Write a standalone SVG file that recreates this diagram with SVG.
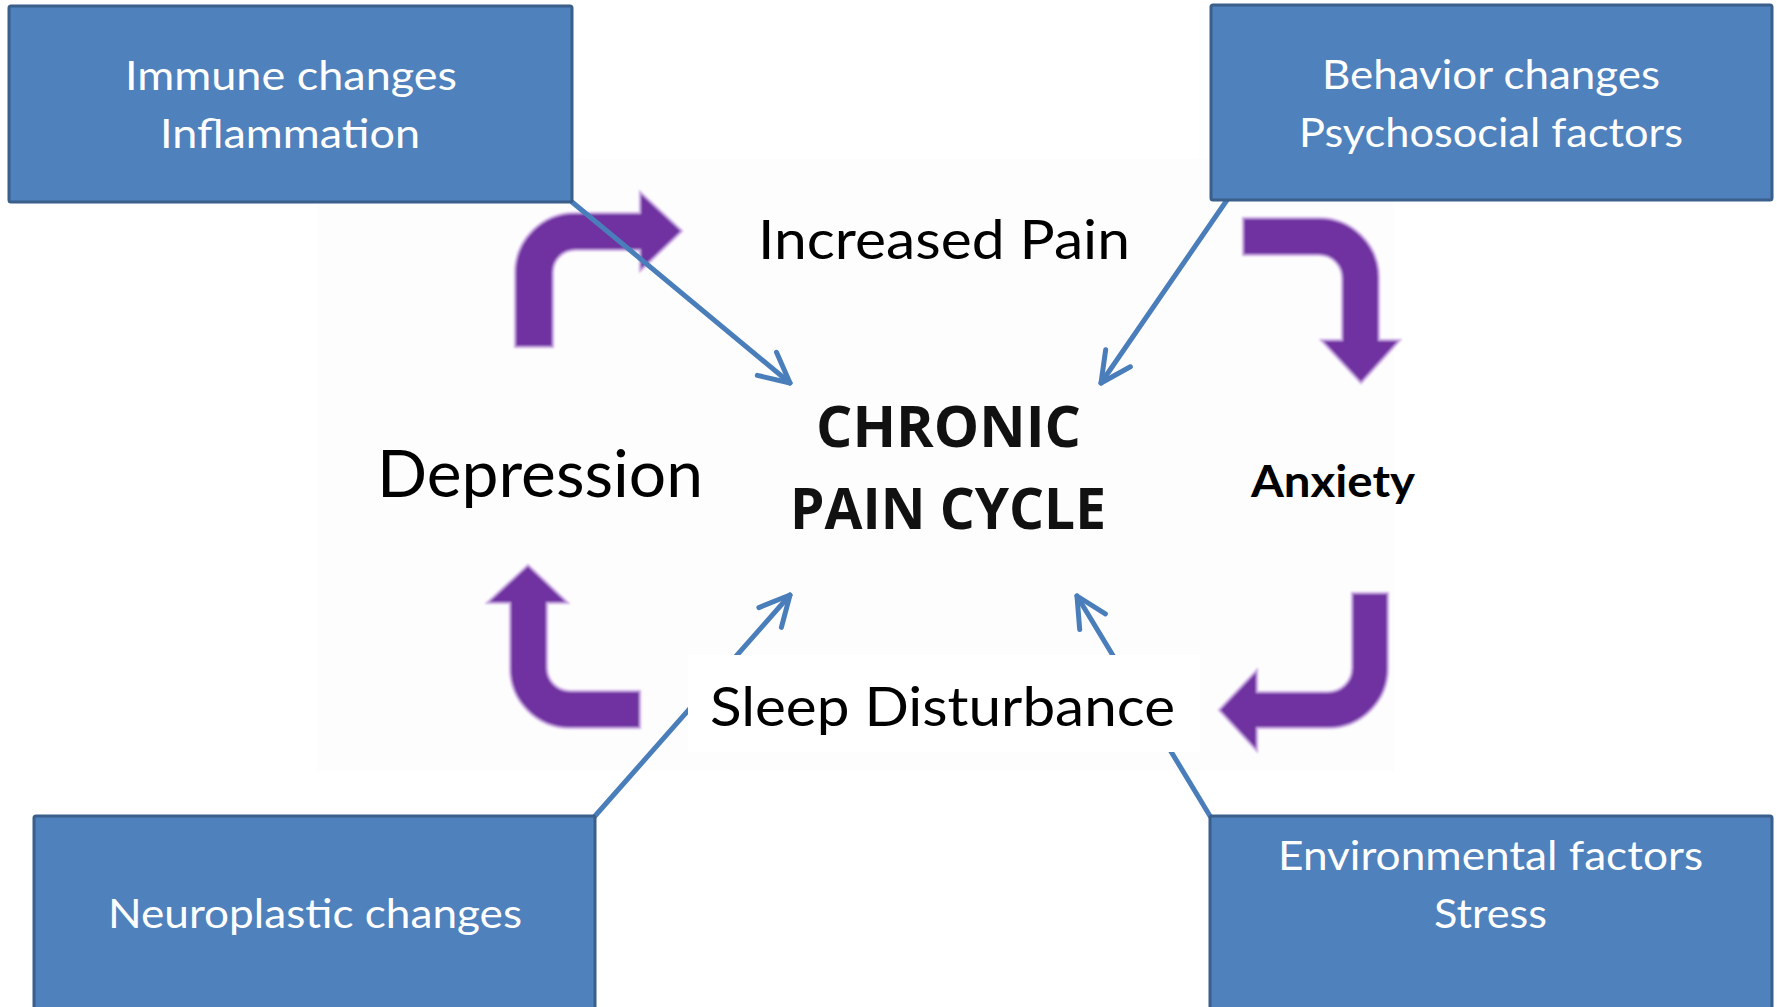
<svg xmlns="http://www.w3.org/2000/svg" width="1777" height="1007" viewBox="0 0 1777 1007">
  <style>
    .box { fill: #4F81BD; stroke: #3A5F8B; stroke-width: 3; }
    .boxtext { font-family: Lato, "Open Sans", sans-serif; font-size: 41px; fill: #FFFFFF; }
    .label { font-family: Lato, "Open Sans", sans-serif; fill: #000000; }
    .conn { stroke: #4A7EBB; stroke-width: 5; fill: none; stroke-linecap: round; marker-end: url(#openArrow); }
    .cycle { fill: #7030A0; stroke: #C9A6E3; stroke-width: 2; }
  </style>
  <defs>
    <marker id="openArrow" markerUnits="userSpaceOnUse" markerWidth="50" markerHeight="50" refX="35" refY="25" orient="auto" overflow="visible">
      <path d="M 5 10 L 35 25 L 5 40" fill="none" stroke="#4A7EBB" stroke-width="5" stroke-linecap="round" stroke-linejoin="round"/>
    </marker>
    <filter id="soft" x="-10%" y="-10%" width="120%" height="120%">
      <feGaussianBlur stdDeviation="1.2"/>
    </filter>
  </defs>

  <rect x="0" y="0" width="1777" height="1007" fill="#FFFFFF"/>
  <rect x="317" y="159" width="1077" height="612" fill="#FDFDFD"/>

  <!-- purple cycle arrows -->
  <g id="cycle-arrows" filter="url(#soft)">
    <path class="cycle" d="M 515 347 L 515 273 A 60 60 0 0 1 575 213 L 640 213 L 640 192 L 682 231 L 640 271 L 640 250 L 575 250 A 22 22 0 0 0 553 272 L 553 347 Z"/>
    <path class="cycle" d="M 1243 218 L 1319 218 A 60 60 0 0 1 1379 278 L 1379 340 L 1400 340 L 1361 383 L 1321 340 L 1342 340 L 1342 278 A 23 23 0 0 0 1319 255 L 1243 255 Z"/>
    <path class="cycle" d="M 1352 593 L 1388 593 L 1388 668 A 60 60 0 0 1 1328 728 L 1257 728 L 1257 751 L 1219 710 L 1257 670 L 1257 692 L 1328 692 A 24 24 0 0 0 1352 668 Z"/>
    <path class="cycle" d="M 640 728 L 570 728 A 60 60 0 0 1 510 668 L 510 603 L 487 603 L 528 565 L 568 603 L 547 603 L 547 668 A 23 23 0 0 0 570 691 L 640 691 Z"/>
  </g>

  <!-- connectors -->
  <g id="connectors">
    <line class="conn" x1="572" y1="202" x2="790" y2="383"/>
    <line class="conn" x1="1227" y1="200" x2="1101" y2="383"/>
    <line class="conn" x1="595" y1="816" x2="790" y2="595"/>
    <line class="conn" x1="1210" y1="816" x2="1077" y2="596"/>
  </g>

  <!-- factor boxes -->
  <g id="immune">
    <rect class="box" x="9" y="6" width="563" height="196" rx="2"/>
    <text class="boxtext" x="125" y="90" textLength="332" lengthAdjust="spacingAndGlyphs">Immune changes</text>
    <text class="boxtext" x="160" y="148" textLength="260" lengthAdjust="spacingAndGlyphs">Inflammation</text>
  </g>
  <g id="behavior">
    <rect class="box" x="1211" y="5" width="561" height="195" rx="2"/>
    <text class="boxtext" x="1322" y="89" textLength="338" lengthAdjust="spacingAndGlyphs">Behavior changes</text>
    <text class="boxtext" x="1299" y="147" textLength="384" lengthAdjust="spacingAndGlyphs">Psychosocial factors</text>
  </g>
  <g id="neuroplastic">
    <rect class="box" x="34" y="816" width="561" height="200" rx="2"/>
    <text class="boxtext" x="108" y="928" textLength="414" lengthAdjust="spacingAndGlyphs">Neuroplastic changes</text>
  </g>
  <g id="environmental">
    <rect class="box" x="1210" y="816" width="562" height="200" rx="2"/>
    <text class="boxtext" x="1278" y="870" textLength="425" lengthAdjust="spacingAndGlyphs">Environmental factors</text>
    <text class="boxtext" x="1434" y="928" textLength="113" lengthAdjust="spacingAndGlyphs">Stress</text>
  </g>

  <!-- cycle labels -->
  <g id="increased-pain">
    <text class="label" x="758" y="259" font-size="55" textLength="372" lengthAdjust="spacingAndGlyphs">Increased Pain</text>
  </g>
  <g id="depression">
    <text class="label" x="377" y="497" font-size="65" textLength="326" lengthAdjust="spacingAndGlyphs">Depression</text>
  </g>
  <g id="anxiety">
    <text class="label" x="1251" y="497" font-size="43" font-weight="bold" textLength="164" lengthAdjust="spacingAndGlyphs">Anxiety</text>
  </g>
  <g id="sleep">
    <rect x="688" y="655" width="512" height="97" fill="#FFFFFF"/>
    <text class="label" x="710" y="726" font-size="55" textLength="465" lengthAdjust="spacingAndGlyphs">Sleep Disturbance</text>
  </g>
  <g id="chronic-pain-cycle">
    <text x="816" y="447" font-family="'Open Sans', 'DejaVu Sans', sans-serif" font-size="58" font-weight="bold" fill="#111111" textLength="265" lengthAdjust="spacingAndGlyphs">CHRONIC</text>
    <text x="790" y="529" font-family="'Open Sans', 'DejaVu Sans', sans-serif" font-size="58" font-weight="bold" fill="#111111" textLength="316" lengthAdjust="spacingAndGlyphs">PAIN CYCLE</text>
  </g>
</svg>
